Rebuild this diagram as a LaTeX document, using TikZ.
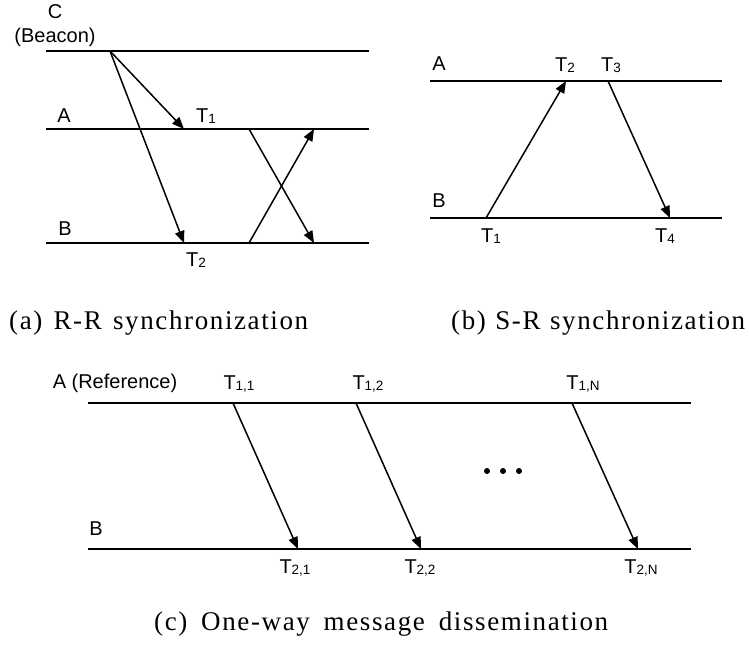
\documentclass[tikz,border=0pt]{standalone}
\usepackage{fontspec}
\setmainfont{Liberation Serif}
\newfontfamily\lblfont{Liberation Sans}
\newfontfamily\capfont[LetterSpace=6]{Liberation Serif}
\usetikzlibrary{arrows.meta}
\newcommand\Tsb[1]{T\raisebox{-1.5pt}{\fontsize{13.5}{13.5}\selectfont #1}}
\begin{document}
\begin{tikzpicture}[x=1pt,y=-1pt,
  tl/.style={line width=1.7pt},
  msg/.style={line width=1.5pt,-{Triangle[length=12pt,width=9.5pt]}},
  lab/.style={font=\lblfont\fontsize{20}{20}\selectfont, inner sep=0pt},
  captext/.style={font=\capfont\fontsize{27}{27}\selectfont, inner sep=0pt, anchor=base west},
  dotm/.style={fill=black, circle, inner sep=0pt, minimum size=6pt}]
\useasboundingbox (0,0) rectangle (749,646);
% ---------- panel (a)
\coordinate (aC0) at (46,51);  \coordinate (aC1) at (369,51);
\coordinate (aA0) at (46,129); \coordinate (aA1) at (369,129);
\coordinate (aB0) at (46,243); \coordinate (aB1) at (369,243);
\draw[tl] (aC0) -- (aC1);
\draw[tl] (aA0) -- (aA1);
\draw[tl] (aB0) -- (aB1);
\coordinate (aS) at (110,51);
\coordinate (aT1) at (184,129);
\coordinate (aT2) at (184,243);
\draw[msg] (aS) -- (aT1);
\draw[msg] (aS) -- (aT2);
\coordinate (aAs) at (249,129); \coordinate (aBr) at (314,243);
\coordinate (aBs) at (249,243); \coordinate (aAr) at (314,129);
\draw[msg] (aAs) -- (aBr);
\draw[msg] (aBs) -- (aAr);
\node[lab] (lC) at (55,12) {C};
\node[lab] (lBeacon) at (55,37) {(Beacon)};
\node[lab] (laA) at (64,116) {A};
\node[lab] (laB) at (65,229) {B};
\node[lab] (laT1) at (206,116) {\Tsb{1}};
\node[lab] (laT2) at (196,260) {\Tsb{2}};
% ---------- panel (b)
\coordinate (bA0) at (430,81);  \coordinate (bA1) at (722,81);
\coordinate (bB0) at (430,218); \coordinate (bB1) at (722,218);
\draw[tl] (bA0) -- (bA1);
\draw[tl] (bB0) -- (bB1);
\coordinate (bT1) at (486,218); \coordinate (bT2) at (566,81);
\coordinate (bT3) at (608,81);  \coordinate (bT4) at (670,218);
\draw[msg] (bT1) -- (bT2);
\draw[msg] (bT3) -- (bT4);
\node[lab] (lbA) at (439,64) {A};
\node[lab] (lbB) at (439,201) {B};
\node[lab] (lbT2) at (565,65) {\Tsb{2}};
\node[lab] (lbT3) at (611,65) {\Tsb{3}};
\node[lab] (lbT1) at (491,236) {\Tsb{1}};
\node[lab] (lbT4) at (665,236) {\Tsb{4}};
% ---------- panel (c)
\coordinate (cA0) at (88,403);  \coordinate (cA1) at (691,403);
\coordinate (cB0) at (88,549);  \coordinate (cB1) at (691,549);
\draw[tl] (cA0) -- (cA1);
\draw[tl] (cB0) -- (cB1);
\coordinate (cS1) at (233,403); \coordinate (cR1) at (298,549);
\coordinate (cS2) at (356,403); \coordinate (cR2) at (421,549);
\coordinate (cSN) at (572,403); \coordinate (cRN) at (638,549);
\draw[msg] (cS1) -- (cR1);
\draw[msg] (cS2) -- (cR2);
\draw[msg] (cSN) -- (cRN);
\node[lab] (lcA) at (115,383) {A (Reference)};
\node[lab] (lcB) at (96,529) {B};
\node[lab] (lc11) at (239,384) {\Tsb{1,1}};
\node[lab] (lc12) at (368,384) {\Tsb{1,2}};
\node[lab] (lc1N) at (583,384) {\Tsb{1,N}};
\node[lab] (lc21) at (295,568) {\Tsb{2,1}};
\node[lab] (lc22) at (420,568) {\Tsb{2,2}};
\node[lab] (lc2N) at (641,568) {\Tsb{2,N}};
\node[dotm] (d1) at (487,471) {};
\node[dotm] (d2) at (503,471) {};
\node[dotm] (d3) at (519,471) {};
% ---------- captions
\node[captext] (capa) at (9,329) {\makebox[299pt][s]{(a) R-R synchronization}};
\node[captext] (capb) at (451,329) {\makebox[294pt][s]{(b) S-R synchronization}};
\node[captext] (capc) at (154,630) {\makebox[454pt][s]{(c) One-way message dissemination}};
\end{tikzpicture}
\end{document}
